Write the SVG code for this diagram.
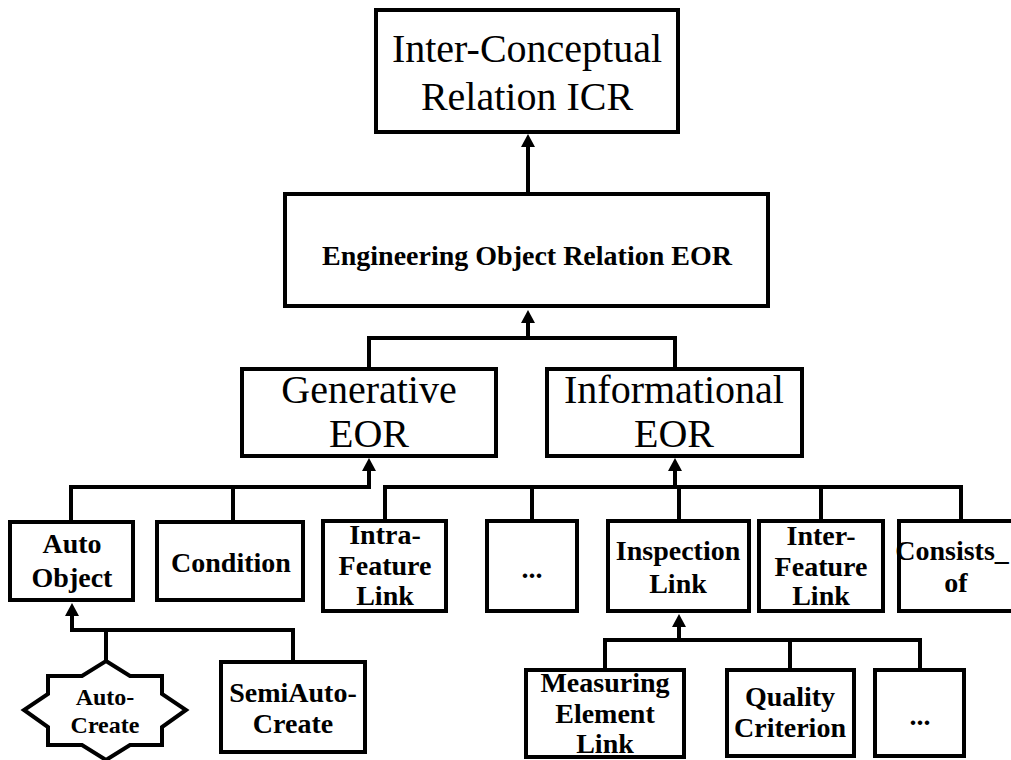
<svg xmlns="http://www.w3.org/2000/svg" width="1011" height="760" viewBox="0 0 1011 760">
<defs>
<marker id="ah" markerUnits="userSpaceOnUse" markerWidth="14" markerHeight="14" viewBox="0 0 14 14" refX="0" refY="7" orient="auto">
<path d="M0,0 L13,7 L0,14 Z" fill="#000"/>
</marker>
<style>
.box{fill:#fff;stroke:#000;stroke-width:4}
.c{fill:none;stroke:#000;stroke-width:4;stroke-linejoin:miter}
.a{marker-end:url(#ah)}
.big{font-family:"Liberation Serif","Times New Roman",serif;font-size:40px;text-anchor:middle;fill:#000}
.b{font-family:"Liberation Serif","Times New Roman",serif;font-size:28px;font-weight:bold;text-anchor:middle;fill:#000}
.s{font-family:"Liberation Serif","Times New Roman",serif;font-size:24px;font-weight:bold;text-anchor:middle;fill:#000}
</style>
</defs>
<rect width="1011" height="760" fill="#fff"/>
<g id="connectors">
<polyline class="c a" points="528,192 528,147"/>
<polyline class="c" points="369,369 369,338 675,338 675,369"/>
<polyline class="c a" points="528,338 528,323"/>
<polyline class="c a" points="71,521 71,487 369,487 369,471"/>
<polyline class="c" points="233,521 233,487"/>
<polyline class="c" points="385,521 385,487 961,487 961,521"/>
<polyline class="c a" points="675,487 675,471"/>
<polyline class="c" points="532,521 532,487"/>
<polyline class="c" points="679,521 679,487"/>
<polyline class="c" points="821,521 821,487"/>
<polyline class="c a" points="106,661 106,630 72,630 72,616"/>
<polyline class="c" points="106,630 293,630 293,662"/>
<polyline class="c" points="605,670 605,640 920,640 920,670"/>
<polyline class="c a" points="679,640 679,627"/>
<polyline class="c" points="790,670 790,640"/>
</g>
<g id="icr">
<rect class="box" x="376" y="10" width="302" height="122"/>
<text class="big" x="527" y="62">Inter-Conceptual</text>
<text class="big" x="527" y="110">Relation ICR</text>
</g>
<g id="eor">
<rect class="box" x="285" y="194" width="483" height="112"/>
<text class="b" x="527" y="265">Engineering Object Relation EOR</text>
</g>
<g id="generative">
<rect class="box" x="242" y="369" width="254" height="87"/>
<text class="big" x="369" y="403">Generative</text>
<text class="big" x="369" y="447">EOR</text>
</g>
<g id="informational">
<rect class="box" x="547" y="369" width="255" height="87"/>
<text class="big" x="674" y="403">Informational</text>
<text class="big" x="674" y="447">EOR</text>
</g>
<g id="autoobject">
<rect class="box" x="10" y="522" width="123" height="78"/>
<text class="b" x="72" y="553">Auto</text>
<text class="b" x="72" y="587">Object</text>
</g>
<g id="condition">
<rect class="box" x="157" y="522" width="146" height="78"/>
<text class="b" x="231" y="572">Condition</text>
</g>
<g id="intrafeature">
<rect class="box" x="323" y="521" width="123" height="90"/>
<text class="b" x="385" y="544">Intra-</text>
<text class="b" x="385" y="575">Feature</text>
<text class="b" x="385" y="605">Link</text>
</g>
<g id="dots1">
<rect class="box" x="487" y="521" width="90" height="90"/>
<text class="b" x="532" y="578">...</text>
</g>
<g id="inspection">
<rect class="box" x="608" y="521" width="141" height="90"/>
<text class="b" x="678" y="560">Inspection</text>
<text class="b" x="678" y="593">Link</text>
</g>
<g id="interfeature">
<rect class="box" x="759" y="521" width="124" height="90"/>
<text class="b" x="821" y="545">Inter-</text>
<text class="b" x="821" y="576">Feature</text>
<text class="b" x="821" y="605">Link</text>
</g>
<g id="consists">
<rect class="box" x="899" y="521" width="122" height="90"/>
<text class="b" x="952" y="560">Consists_</text>
<text class="b" x="956" y="592">of</text>
</g>
<g id="autocreate">
<polygon class="box" points="106,661 130,676 162,676 162,694 186,710 162,727 162,745 130,745 106,760 82,745 48,745 48,727 24,710 48,694 48,676 82,676"/>
<text class="s" x="105" y="705">Auto-</text>
<text class="s" x="105" y="733">Create</text>
</g>
<g id="semiautocreate">
<rect class="box" x="221" y="662" width="144" height="90"/>
<text class="b" x="293" y="702">SemiAuto-</text>
<text class="b" x="293" y="733">Create</text>
</g>
<g id="measuring">
<rect class="box" x="526" y="670" width="158" height="87"/>
<text class="b" x="605" y="692">Measuring</text>
<text class="b" x="605" y="723">Element</text>
<text class="b" x="605" y="753">Link</text>
</g>
<g id="quality">
<rect class="box" x="727" y="670" width="127" height="86"/>
<text class="b" x="790" y="706">Quality</text>
<text class="b" x="790" y="737">Criterion</text>
</g>
<g id="dots2">
<rect class="box" x="875" y="670" width="89" height="86"/>
<text class="b" x="920" y="725">...</text>
</g>
</svg>
